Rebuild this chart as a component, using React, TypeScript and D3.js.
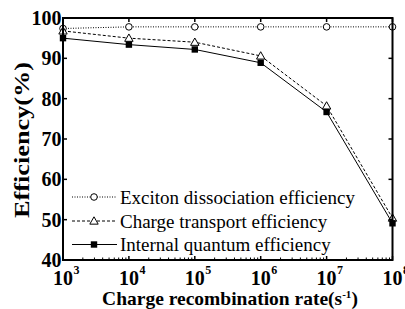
import React from "react";
import * as d3 from "d3";

const rates = [1e3, 1e4, 1e5, 1e6, 1e7, 1e8];
const excitonEff = [97.4, 97.8, 97.8, 97.8, 97.8, 97.8];
const transportEff = [96.8, 95.0, 94.0, 90.6, 78.2, 50.4];
const iqeEff = [95.0, 93.4, 92.2, 88.9, 76.7, 49.1];
const yTicks = [40, 50, 60, 70, 80, 90, 100];
const xExponents = [3, 4, 5, 6, 7, 8];
const legendLabels = [
  "Exciton dissociation efficiency",
  "Charge transport efficiency",
  "Internal quantum efficiency",
];

const W = 405, H = 309;
const M = { left: 63, right: 392.5, top: 18, bottom: 260 };
const FONT = "Liberation Serif";

export default function App() {
  const x = d3.scaleLog().domain([1e3, 1e8]).range([M.left, M.right]);
  const y = d3.scaleLinear().domain([40, 100]).range([M.bottom, M.top]);
  const line = d3
    .line<number>()
    .x((_, i) => x(rates[i]))
    .y((d) => y(d));

  const minor: number[] = [];
  for (let e = 3; e < 8; e++) for (let k = 2; k <= 9; k++) minor.push(k * Math.pow(10, e));

  const series = [
    { data: excitonEff, dash: "1,1.5", marker: "circle" },
    { data: transportEff, dash: "3,2", marker: "triangle" },
    { data: iqeEff, dash: "", marker: "square" },
  ];

  const drawMarker = (m: string, cx: number, cy: number, key: string) => {
    if (m === "circle")
      return <circle key={key} cx={cx} cy={cy} r={3.3} fill="white" stroke="black" strokeWidth={1} />;
    if (m === "triangle") {
      const s = 4.2;
      return (
        <path
          key={key}
          d={`M${cx},${cy - s} L${cx + s},${cy + s * 0.75} L${cx - s},${cy + s * 0.75} Z`}
          fill="white"
          stroke="black"
          strokeWidth={1}
        />
      );
    }
    return <rect key={key} x={cx - 3.2} y={cy - 3.2} width={6.4} height={6.4} fill="black" />;
  };

  const legY = [197, 221, 244.5];
  const ts = { fontFamily: FONT } as React.CSSProperties;

  return (
    <svg width={W} height={H} style={{ position: "absolute", left: 0, top: 0, background: "white" }}>
      <rect width={W} height={H} fill="white" />
      {series.map((s, si) => (
        <g key={si}>
          <path d={line(s.data) || ""} fill="none" stroke="black" strokeWidth={1} strokeDasharray={s.dash} />
          {s.data.map((d, i) => drawMarker(s.marker, x(rates[i]), y(d), `m${si}-${i}`))}
        </g>
      ))}
      {series.map((s, si) => (
        <g key={`l${si}`}>
          <line x1={72} x2={117} y1={legY[si]} y2={legY[si]} stroke="black" strokeWidth={1} strokeDasharray={s.dash} />
          {drawMarker(s.marker, 94, legY[si], `lm${si}`)}
          <text x={120} y={legY[si] + 6.5} fontSize={19} fill="black" style={ts}>
            {legendLabels[si]}
          </text>
        </g>
      ))}
      <rect x={M.left} y={M.top} width={M.right - M.left} height={M.bottom - M.top} fill="none" stroke="black" strokeWidth={2} />
      {yTicks.map((t) => (
        <g key={`y${t}`}>
          <line x1={M.left} x2={M.left + 4} y1={y(t)} y2={y(t)} stroke="black" strokeWidth={1.5} />
          <line x1={M.right} x2={M.right - 4} y1={y(t)} y2={y(t)} stroke="black" strokeWidth={1.5} />
          <text x={M.left - 1.5} y={y(t) + 7} textAnchor="end" fontSize={20} fontWeight="bold" style={ts}>
            {t}
          </text>
        </g>
      ))}
      {xExponents.map((e) => {
        const xv = x(Math.pow(10, e));
        return (
          <g key={`x${e}`}>
            <line x1={xv} x2={xv} y1={M.bottom} y2={M.bottom - 4} stroke="black" strokeWidth={1.5} />
            <line x1={xv} x2={xv} y1={M.top} y2={M.top + 4} stroke="black" strokeWidth={1.5} />
            <text x={xv} y={285} textAnchor="middle" fontSize={20} fontWeight="bold" style={ts}>
              10
            </text>
            <text x={xv + 10.5} y={274} textAnchor="start" fontSize={12} fontWeight="bold" style={ts}>
              {e}
            </text>
          </g>
        );
      })}
      {minor.map((v, i) => (
        <line key={`mn${i}`} x1={x(v)} x2={x(v)} y1={M.bottom} y2={M.bottom - 2.5} stroke="black" strokeWidth={1} />
      ))}
      <text x={230} y={305} textAnchor="middle" fontSize={19.5} fontWeight="bold" style={ts}>
        Charge recombination rate(s
        <tspan dy={-7} fontSize={11}>
          -1
        </tspan>
        <tspan dy={7}>)</tspan>
      </text>
      <text
        transform={`translate(29, 140) rotate(-90)`}
        textAnchor="middle"
        fontSize={22}
        fontWeight="bold"
        textLength={156}
        lengthAdjust="spacingAndGlyphs"
        style={ts}
      >
        Efficiency(%)
      </text>
    </svg>
  );
}
